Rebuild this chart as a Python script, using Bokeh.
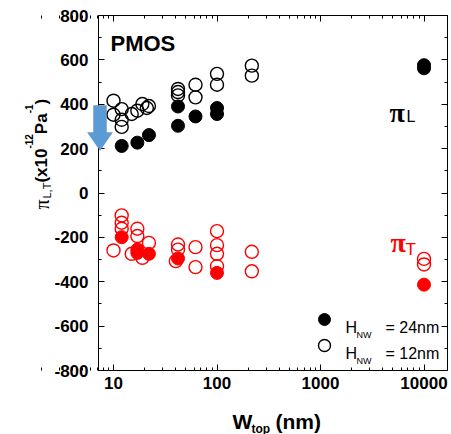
import numpy as np
from bokeh.plotting import figure
from bokeh.models import (Range1d, LogAxis, LinearAxis, FixedTicker, SingleIntervalTicker,
                          PrintfTickFormatter, Label, PolyAnnotation)
from bokeh.embed import file_html
from bokeh.resources import INLINE

# ---------------- data ----------------
# pi_L, H_NW = 24 nm (filled black)
wL24 = [12, 17, 22, 42, 42, 62, 100, 100, 10000, 10000]
pL24 = [212, 227, 261, 303, 390, 345, 383, 356, 576, 562]
# pi_L, H_NW = 12 nm (open black)
wL12 = [10, 10, 12, 12, 12, 15, 17, 19, 21, 22, 42, 42, 42, 62, 62, 100, 100, 217, 217]
pL12 = [416, 353, 378, 330, 298, 356, 371, 401, 383, 392, 469, 455, 440, 488, 431, 537, 488, 574, 529]
# pi_T, H_NW = 24 nm (filled red)
wT24 = [12, 17, 17, 22, 42, 100, 10000]
pT24 = [-199, -255, -270, -274, -295, -360, -413]
# pi_T, H_NW = 12 nm (open red)
wT12 = [10, 12, 12, 12, 15, 17, 17, 19, 22, 42, 42, 40, 62, 62, 100, 100, 100, 100, 217, 217, 10000, 10000]
pT12 = [-259, -101, -134, -161, -274, -161, -194, -292, -225, -232, -255, -307, -244, -334,
        -172, -235, -274, -330, -265, -353, -297, -322]

x_ticks = [10, 100, 1000, 10000]
y_tick_interval = 200
y_lo, y_hi = -800, 800

# ---------------- geometry (canvas pixels) ----------------
W, H = 451, 434
FL, FR, FT, FBm = 98, 447, 15, 370      # plot box edges
decade = 103.5
lg0 = 1 - 15 / decade                   # log10(x) at the left plot-box edge
ppu = (FBm - FT) / (y_hi - y_lo)        # pixels per y unit


def px2x(px):
    return 10 ** (lg0 + (px - FL) / decade)


def px2y(py):
    return y_hi - (py - FT) / ppu


xb = (px2x(FL), px2x(FR))               # plot-box extents in data units
yb = (y_lo, y_hi)

FONT = "Liberation Sans"

# the frame spans the whole canvas; axes are pinned to the plot box with fixed_location
p = figure(width=W, height=H, x_axis_type="log",
           x_range=Range1d(px2x(0), px2x(W)), y_range=Range1d(px2y(H), px2y(0)),
           output_backend="svg", toolbar_location=None,
           min_border_left=0, min_border_right=0, min_border_top=0, min_border_bottom=0)
p.xgrid.visible = False
p.ygrid.visible = False
p.outline_line_color = None
p.background_fill_color = "white"
p.border_fill_color = "white"

minor = [m * 10 ** e for e in range(0, 5) for m in range(2, 10)]
xticker = FixedTicker(ticks=x_ticks, minor_ticks=minor)
yticker = SingleIntervalTicker(interval=y_tick_interval, num_minor_ticks=2)


def style_axis(ax, labels=True):
    ax.axis_line_color = "black"
    ax.axis_line_width = 1
    ax.major_tick_in = 6
    ax.major_tick_out = 0
    ax.minor_tick_in = 3
    ax.minor_tick_out = 0
    ax.major_tick_line_color = "black"
    ax.minor_tick_line_color = "black"
    if labels:
        ax.major_label_text_font = FONT
        ax.major_label_text_font_style = "bold"
        ax.major_label_text_font_size = "17px"
        ax.major_label_text_color = "black"
    else:
        ax.major_label_text_font_size = "1px"
        ax.major_label_text_alpha = 0.0
        ax.major_label_standoff = 0


bx = p.xaxis[0]
bx.ticker = xticker
bx.formatter = PrintfTickFormatter(format="%d")
bx.fixed_location = y_lo
bx.bounds = xb
style_axis(bx)
bx.major_label_standoff = 6

ly = p.yaxis[0]
ly.ticker = yticker
ly.formatter = PrintfTickFormatter(format="%d")
ly.fixed_location = xb[0]
ly.bounds = yb
style_axis(ly)
ly.major_label_standoff = 10

top = LogAxis(ticker=xticker, fixed_location=y_hi, bounds=xb)
style_axis(top, labels=False)
p.add_layout(top, "above")
right = LinearAxis(ticker=yticker, fixed_location=xb[1], bounds=yb)
style_axis(right, labels=False)
p.add_layout(right, "right")

# ---------------- data marks ----------------
S = 13
p.scatter(wL12, pL12, size=S, marker="circle", fill_color=None, line_color="black", line_width=1.4)
p.scatter(wT12, pT12, size=S, marker="circle", fill_color=None, line_color="red", line_width=1.4)
p.scatter(wL24, pL24, size=S, marker="circle", fill_color="black", line_color="black")
p.scatter(wT24, pT24, size=S, marker="circle", fill_color="red", line_color="red")

# legend markers
p.scatter([px2x(324)], [px2y(319)], size=12, marker="circle", fill_color="black", line_color="black")
p.scatter([px2x(324)], [px2y(345)], size=12, marker="circle", fill_color=None, line_color="black",
          line_width=1.4)


def lab(text, px, py, size, color="black", style="normal", font=FONT, angle=0.0):
    p.add_layout(Label(x=px2x(px), y=px2y(py), text=text, text_font=font,
                       text_font_size=f"{size}px", text_font_style=style, text_color=color,
                       text_align="left", text_baseline="alphabetic", angle=angle))


# legend texts
for py, t in [(327, "= 24nm"), (353, "= 12nm")]:
    lab("H", 345, py, 16)
    lab("NW", 356, py + 7, 9)
    lab(t, 385, py, 16)

# annotations
lab("PMOS", 110, 43, 22, style="bold")
lab("\u03c0", 389, 112, 28, font="Liberation Serif", style="bold")
lab("L", 406, 116, 16)
lab("\u03c0", 390, 242, 28, color="red", font="Liberation Serif", style="bold")
lab("T", 405, 249, 17, color="red")

# x axis label
lab("W", 232, 421, 21, style="bold")
lab("top", 251, 428, 12, style="bold")
lab("(nm)", 275, 421, 21, style="bold")

# y axis label (rotated pieces)
A = np.pi / 2
yl = [("\u03c0", 41, 20, "normal", "Liberation Serif", 0.55),
      ("L,T", 46, 11, "normal", FONT, 1.445),
      ("(x10", 41, 17, "bold", FONT, 2.001),
      ("-12", 28, 10, "bold", FONT, 1.445),
      ("Pa", 41, 17, "bold", FONT, 1.223),
      ("-1", 28, 10, "bold", FONT, 0.889),
      (")", 41, 17, "bold", FONT, 0.333)]
cur = 209
for t, bxp, fs, st, fnt, em in yl:
    lab(t, bxp, cur, fs, style=st, font=fnt, angle=A)
    cur -= em * fs

# blue arrow
ax_ = [93, 106, 106, 112, 99.5, 87, 93]
ay_ = [105, 105, 132, 132, 150, 132, 132]
p.add_layout(PolyAnnotation(xs=[px2x(v) for v in ax_], ys=[px2y(v) for v in ay_],
                            fill_color="#5B9BD5", fill_alpha=1.0,
                            line_color="#41719C", line_width=1, level="overlay"))

open("out.html", "w").write(file_html(p, INLINE))
